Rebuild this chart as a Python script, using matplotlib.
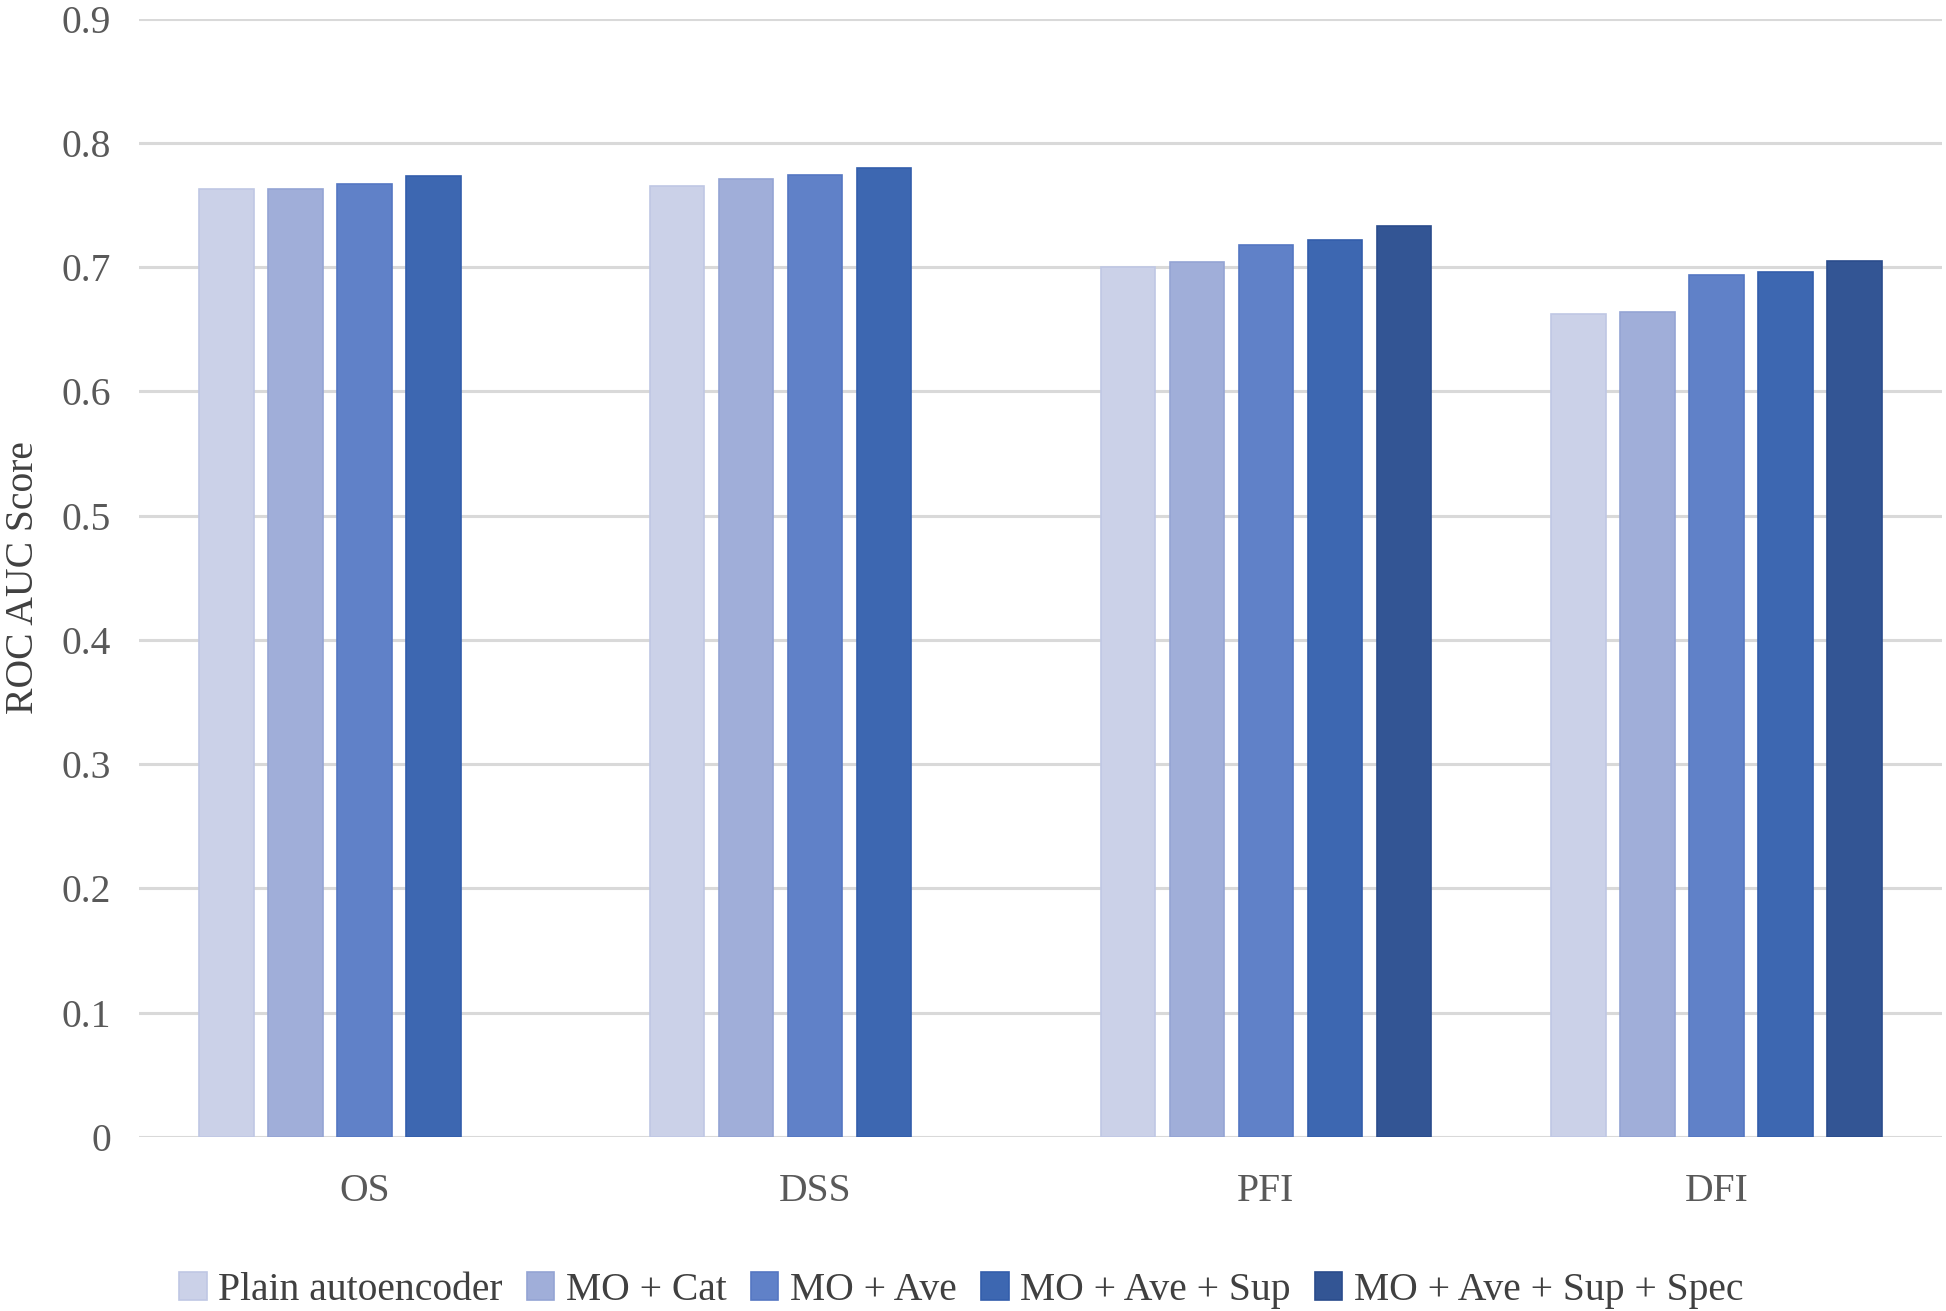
import numpy as np
import matplotlib.pyplot as plt

plt.rcParams["font.family"] = ["Liberation Serif", "DejaVu Serif"]

categories = ["OS", "DSS", "PFI", "DFI"]
series = ["Plain autoencoder", "MO + Cat", "MO + Ave", "MO + Ave + Sup", "MO + Ave + Sup + Spec"]
values = {
    "Plain autoencoder":     [0.763, 0.765, 0.700, 0.662],
    "MO + Cat":              [0.763, 0.771, 0.704, 0.664],
    "MO + Ave":              [0.767, 0.774, 0.718, 0.694],
    "MO + Ave + Sup":        [0.773, 0.780, 0.722, 0.696],
    "MO + Ave + Sup + Spec": [np.nan, np.nan, 0.733, 0.705],
}
colors = ["#CBD1E8", "#A0AED9", "#6081C8", "#3D67B1", "#335594"]
edges = ["#BFC7E4", "#94A4D4", "#5577C2", "#335EAC", "#2A4C8C"]

fig = plt.figure(figsize=(19.46, 13.11), dpi=100)
ax = fig.add_axes([139 / 1946, 1 - 1137 / 1311, (1942 - 139) / 1946, (1137 - 18.6) / 1311])

x = np.arange(len(categories))
step = 0.153
width = 0.121
for i, name in enumerate(series):
    ax.bar(x + (i - 2) * step, values[name], width, color=colors[i], edgecolor=edges[i],
           linewidth=1.2, label=name, zorder=3)

ax.set_xlim(-0.5, len(categories) - 0.5)
ax.set_ylim(0, 0.9)
ax.set_yticks(np.arange(0, 0.91, 0.1))
ax.set_yticklabels(["0"] + [f"{v:.1f}" for v in np.arange(0.1, 0.91, 0.1)])
ax.set_xticks(x)
ax.set_xticklabels(categories)
ax.grid(axis="y", color="#D9D9D9", linewidth=2.2, zorder=0)
ax.set_axisbelow(True)
for s in ax.spines.values():
    s.set_visible(False)
ax.tick_params(axis="both", length=0, labelsize=28.5, colors="#595959")
ax.tick_params(axis="y", pad=20)
ax.tick_params(axis="x", pad=26)
ax.set_ylabel("ROC AUC Score", fontsize=28.5, color="#404040", labelpad=14)

fig.legend(loc="center", bbox_to_anchor=(0.494, 0.016), ncol=5, frameon=False,
           fontsize=28.5, labelcolor="#404040", handlelength=0.7, handleheight=0.7,
           handletextpad=0.3, columnspacing=0.6, borderaxespad=0)

fig.savefig("out.png", dpi=100)
